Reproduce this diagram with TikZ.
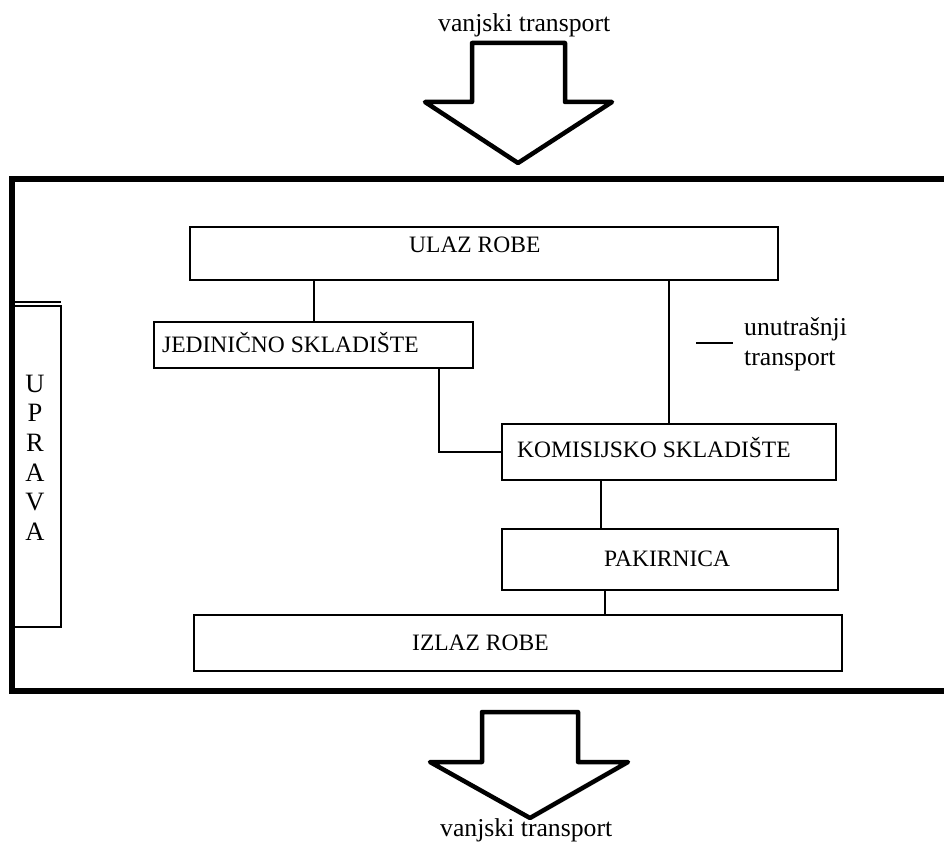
\documentclass[tikz,border=0pt]{standalone}
\usepackage{fontspec}
\setmainfont{Liberation Serif}
\begin{document}
\begin{tikzpicture}[x=1pt,y=-1pt,
  boxnode/.style={draw=black,line width=2pt,inner sep=0pt,outer sep=0pt,rectangle},
  boxtext/.style={anchor=base west,inner sep=0pt,font=\fontsize{23.5}{28}\selectfont},
  labeltext/.style={anchor=base west,inner sep=0pt,font=\fontsize{25.7}{30}\selectfont},
  conn/.style={draw=black,line width=2pt},
  bigarrow/.style={draw=black,line width=4.5pt,line join=round,fill=white},
  frame/.style={draw=black,line width=5.5pt}]
\useasboundingbox[fill=white] (0,0) rectangle (944,845);

% top external transport
\node[labeltext] (vtop) at (438,32) {vanjski transport};
\draw[bigarrow] (472,43) -- (565,43) -- (565,102) -- (612,102) -- (518,163) -- (425,102) -- (472,102) -- cycle;

% outer frame (open on the right)
\draw[frame] (946,179) -- (12,179) -- (12,691) -- (946,691);

% boxes
\node[boxnode,minimum width=588pt,minimum height=53pt] (ulaz) at (484,253.5) {};
\node[boxnode,minimum width=319pt,minimum height=46pt] (jed) at (313.5,345) {};
\node[boxnode,minimum width=334pt,minimum height=56pt] (kom) at (669,452) {};
\node[boxnode,minimum width=336pt,minimum height=61pt] (pak) at (670,559.5) {};
\node[boxnode,minimum width=648pt,minimum height=56pt] (izlaz) at (518,643) {};
\node[boxnode,line width=1.8pt,minimum width=48pt,minimum height=321pt] (uprava) at (37,466.5) {};
\draw[line width=1.8pt] (uprava.north west) ++(0,-4.3) coordinate (uw) -- (uw -| uprava.north east);

% box texts
\node[boxtext] (tulaz) at (409,252) {ULAZ ROBE};
\node[boxtext] (tjed) at (162,352) {JEDINIČNO SKLADIŠTE};
\node[boxtext] (tkom) at (517,457) {KOMISIJSKO SKLADIŠTE};
\node[boxtext] (tpak) at (604,566) {PAKIRNICA};
\node[boxtext] (tizlaz) at (412,650) {IZLAZ ROBE};

\foreach \l [count=\i] in {U,P,R,A,V,A}
  \node[anchor=base,inner sep=0pt,font=\fontsize{26.5}{30}\selectfont] (up\i) at (35,{392+29.7*(\i-1)}) {\l};

% connectors
\draw[conn] (jed.north) -- (jed.north |- ulaz.south);
\draw[conn] (kom.north) -- (kom.north |- ulaz.south);
\coordinate (j1) at ([xshift=-34pt]jed.south east);
\draw[conn] (j1) |- (kom.west);
\coordinate (k1) at ([xshift=-68pt]kom.south);
\draw[conn] (k1) -- (k1 |- pak.north);
\coordinate (p1) at ([xshift=-65pt]pak.south);
\draw[conn] (p1) -- (p1 |- izlaz.north);

% legend
\coordinate (lg1) at (696,343);
\coordinate (lg2) at (733,343);
\draw[line width=1.8pt] (lg1) -- (lg2);
\node[labeltext] (leg1) at (744,335) {unutrašnji};
\node[labeltext] (leg2) at (744,365) {transport};

% bottom external transport
\draw[bigarrow] (482,712) -- (578,712) -- (578,762) -- (628,762) -- (530,818) -- (430,762) -- (482,762) -- cycle;
\node[labeltext] (vbot) at (440,836) {vanjski transport};
\end{tikzpicture}
\end{document}
